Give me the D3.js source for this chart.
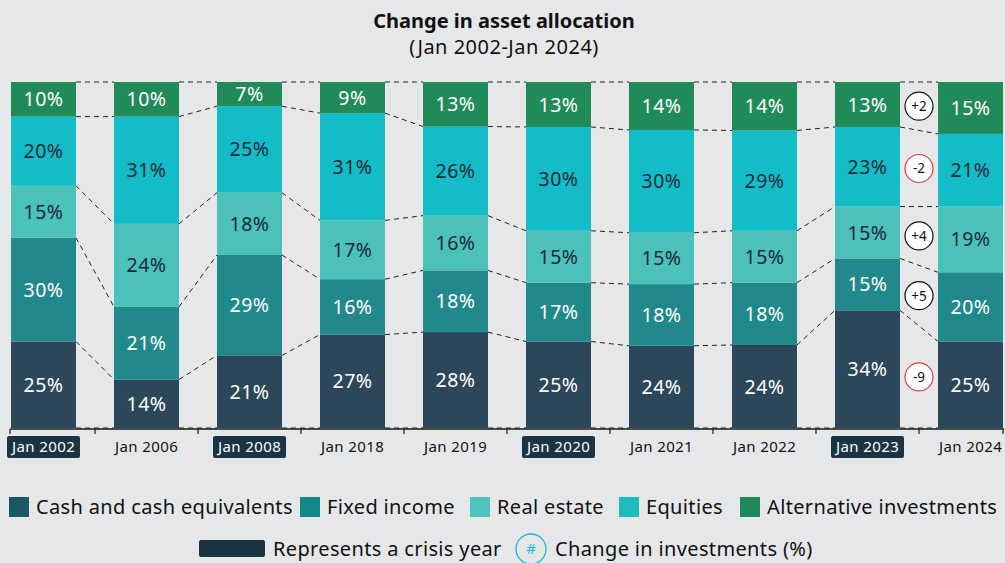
<!DOCTYPE html>
<html>
<head>
<meta charset="utf-8">
<script src="https://cdn.jsdelivr.net/npm/d3@7"></script>
<style>
  body { margin: 0; background: #e6e7e9; }
  svg { display: block; font-family: "Noto Sans", "Open Sans", sans-serif; }
</style>
</head>
<body>
<div id="chart"></div>
<script>
// Daten
const years = ["Jan 2002", "Jan 2006", "Jan 2008", "Jan 2018", "Jan 2019", "Jan 2020", "Jan 2021", "Jan 2022", "Jan 2023", "Jan 2024"];
const crisisYears = ["Jan 2002", "Jan 2008", "Jan 2020", "Jan 2023"];
const cash = [25, 14, 21, 27, 28, 25, 24, 24, 34, 25];
const fixedIncome = [30, 21, 29, 16, 18, 17, 18, 18, 15, 20];
const realEstate = [15, 24, 18, 17, 16, 15, 15, 15, 15, 19];
const equities = [20, 31, 25, 31, 26, 30, 30, 29, 23, 21];
const alternatives = [10, 10, 7, 9, 13, 13, 14, 14, 13, 15];

const seriesKeys = ["cash", "fixed", "real", "equities", "alt"];
const seriesNames = ["Cash and cash equivalents", "Fixed income", "Real estate", "Equities", "Alternative investments"];
const barColors = ["#2c4759", "#21898b", "#4cc1ba", "#13bcc6", "#218a59"];
const legendColors = ["#1b5766", "#128a8b", "#52c3ba", "#1cbcbf", "#22875a"];
const labelColors = ["#ffffff", "#ffffff", "#1a2a38", "#1a2a38", "#ffffff"];

const rows = years.map((y, i) => ({
    year: y,
    cash: cash[i],
    fixed: fixedIncome[i],
    real: realEstate[i],
    equities: equities[i],
    alt: alternatives[i]
}));

const width = 1005, height = 563;

const svg = d3.select("#chart")
    .append("svg")
    .attr("width", width)
    .attr("height", height);

// Titel
svg.append("text")
    .attr("x", 504).attr("y", 28)
    .attr("text-anchor", "middle")
    .attr("font-size", 20).attr("font-weight", "bold")
    .attr("fill", "#111")
    .text("Change in asset allocation");
svg.append("text")
    .attr("x", 504).attr("y", 54)
    .attr("text-anchor", "middle")
    .attr("font-size", 20)
    .attr("letter-spacing", 0.5)
    .attr("fill", "#111")
    .text("(Jan 2002-Jan 2024)");

// Skalen
const x = d3.scaleBand()
    .domain(years)
    .range([-8, 1022])
    .paddingInner(0.369)
    .paddingOuter(0.1845);

const y = d3.scaleLinear()
    .domain([0, 1])
    .range([428, 82]);

const stack = d3.stack()
    .keys(seriesKeys)
    .offset(d3.stackOffsetExpand);
const series = stack(rows);

// Gestrichelte Verbindungslinien
const levels = [];
series.forEach(s => levels.push(s.map(d => d[0])));
levels.push(series[series.length - 1].map(d => d[1]));

const lineG = svg.append("g");
levels.forEach(lv => {
    for (let i = 0; i < years.length - 1; i++) {
        lineG.append("line")
            .attr("x1", x(years[i]) + x.bandwidth())
            .attr("y1", y(lv[i]))
            .attr("x2", x(years[i + 1]))
            .attr("y2", y(lv[i + 1]))
            .attr("stroke", "#222")
            .attr("stroke-width", 1)
            .attr("stroke-dasharray", "5,4");
    }
});

// Balken
const layer = svg.append("g")
    .selectAll("g")
    .data(series)
    .join("g")
    .attr("fill", (d, i) => barColors[i]);

layer.selectAll("rect")
    .data(d => d)
    .join("rect")
    .attr("x", d => x(d.data.year))
    .attr("y", d => y(d[1]))
    .attr("width", x.bandwidth())
    .attr("height", d => y(d[0]) - y(d[1]));

// Beschriftungen
series.forEach((s, si) => {
    svg.append("g")
        .selectAll("text")
        .data(s)
        .join("text")
        .attr("x", d => x(d.data.year) + x.bandwidth() / 2)
        .attr("y", d => (y(d[0]) + y(d[1])) / 2)
        .attr("dy", "0.36em")
        .attr("text-anchor", "middle")
        .attr("font-size", 19.5)
        .attr("letter-spacing", 0.5)
        .attr("fill", labelColors[si])
        .text(d => d.data[s.key] + "%");
});

// Achse
const axisY = 429;
const tickXs = [10];
for (let i = 0; i < years.length - 1; i++) {
    tickXs.push((x(years[i]) + x.bandwidth() + x(years[i + 1])) / 2);
}
tickXs.push(1003);

svg.append("line")
    .attr("x1", 10).attr("x2", 1004)
    .attr("y1", axisY).attr("y2", axisY)
    .attr("stroke", "#1a1a1a").attr("stroke-width", 1.5);
svg.append("g")
    .selectAll("line")
    .data(tickXs)
    .join("line")
    .attr("x1", d => d).attr("x2", d => d)
    .attr("y1", axisY).attr("y2", axisY + 5)
    .attr("stroke", "#1a1a1a").attr("stroke-width", 1.2);

const xLabels = svg.append("g")
    .selectAll("g")
    .data(years)
    .join("g")
    .attr("transform", d => `translate(${x(d) + x.bandwidth() / 2},447)`);

xLabels.filter(d => crisisYears.includes(d))
    .append("rect")
    .attr("x", -36.5).attr("y", -11)
    .attr("width", 73).attr("height", 22)
    .attr("rx", 2)
    .attr("fill", "#1a3443");

xLabels.append("text")
    .attr("text-anchor", "middle")
    .attr("dy", "0.36em")
    .attr("font-size", 15)
    .attr("letter-spacing", 0.4)
    .attr("fill", d => crisisYears.includes(d) ? "#ffffff" : "#111")
    .text(d => d);

// Veränderungen zwischen 2023 und 2024
const last = years.length - 1;
const cxChange = tickXs[last];
const changeG = svg.append("g");
series.forEach(s => {
    const a = s[last - 1], b = s[last];
    const change = b.data[s.key] - a.data[s.key];
    const cy = ((y(a[0]) + y(a[1])) / 2 + (y(b[0]) + y(b[1])) / 2) / 2;
    changeG.append("circle")
        .attr("cx", cxChange).attr("cy", cy)
        .attr("r", 14)
        .attr("fill", "#ffffff")
        .attr("stroke", change < 0 ? "#e23a3a" : "#111")
        .attr("stroke-width", 1.2);
    changeG.append("text")
        .attr("x", cxChange).attr("y", cy)
        .attr("dy", "0.36em")
        .attr("text-anchor", "middle")
        .attr("font-size", 13.5)
        .attr("fill", "#111")
        .text(change > 0 ? "+" + change : String(change));
});

// Legende Zeile 1
const legendX = [9, 300, 470, 619, 740];
const leg = svg.append("g")
    .selectAll("g")
    .data(seriesNames)
    .join("g")
    .attr("transform", (d, i) => `translate(${legendX[i]},497)`);
leg.append("rect")
    .attr("width", 20).attr("height", 20)
    .attr("fill", (d, i) => legendColors[i]);
leg.append("text")
    .attr("x", 27).attr("y", 10)
    .attr("dy", "0.36em")
    .attr("font-size", 20)
    .attr("letter-spacing", 0.35)
    .attr("fill", "#111")
    .text(d => d);

// Legende Zeile 2
svg.append("rect")
    .attr("x", 199).attr("y", 540)
    .attr("width", 66).attr("height", 17)
    .attr("rx", 2)
    .attr("fill", "#1a3443");
svg.append("text")
    .attr("x", 273).attr("y", 549)
    .attr("dy", "0.36em")
    .attr("font-size", 20)
    .attr("letter-spacing", 0.35)
    .attr("fill", "#111")
    .text("Represents a crisis year");
svg.append("circle")
    .attr("cx", 531).attr("cy", 549).attr("r", 15)
    .attr("fill", "none")
    .attr("stroke", "#1cb3e0").attr("stroke-width", 1.3);
svg.append("text")
    .attr("x", 531).attr("y", 549)
    .attr("dy", "0.36em")
    .attr("text-anchor", "middle")
    .attr("font-size", 15)
    .attr("fill", "#1cb3e0")
    .text("#");
svg.append("text")
    .attr("x", 555).attr("y", 549)
    .attr("dy", "0.36em")
    .attr("font-size", 20)
    .attr("letter-spacing", 0.35)
    .attr("fill", "#111")
    .text("Change in investments (%)");
</script>
</body>
</html>
